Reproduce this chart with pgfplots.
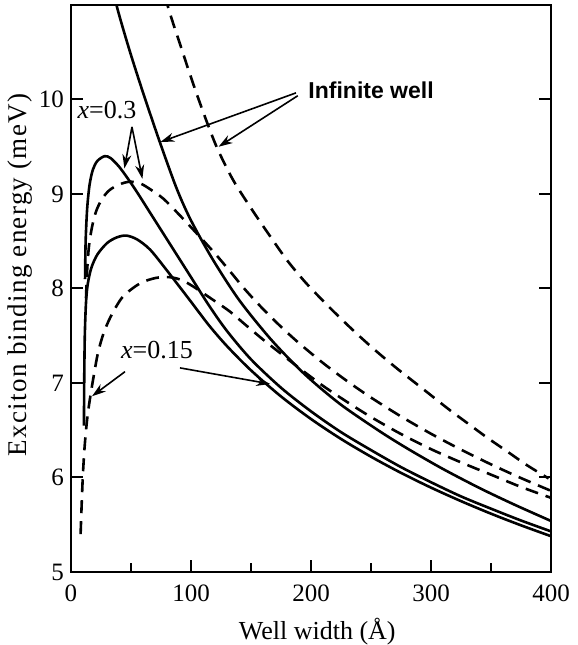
\documentclass[border=0pt]{standalone}
\usepackage{fontspec}
\setmainfont{Liberation Serif}
\newfontfamily\labelsans{Liberation Sans}
\usepackage{pgfplots}
\usepackage{pgfplotstable}
\pgfplotsset{compat=1.18}
\usetikzlibrary{arrows.meta}

% Infinite well, solid
\pgfplotstableread{
x y
36 11.09
40 10.90
45 10.68
50 10.47
56 10.23
63 9.96
74 9.55
88 9.06
100 8.72
118 8.31
140 7.88
166 7.47
190 7.15
207.5 6.95
225 6.77
243 6.61
262 6.45
282.5 6.29
310 6.09
341 5.885
370 5.71
400 5.54
}\infsolid

% Infinite well, dashed
\pgfplotstableread{
x y
78 11.10
84 10.85
91 10.58
98 10.31
105 10.05
113 9.77
122 9.48
135 9.15
150 8.85
165 8.57
180 8.30
195 8.07
210 7.87
225 7.68
240 7.50
255 7.33
272 7.15
288 6.99
302 6.85
316 6.71
332 6.56
347 6.42
363 6.28
380 6.13
398 5.99
}\infdashed

% x = 0.3, solid
\pgfplotstableread{
x y
11.7 8.10
12.2 8.50
13.5 8.85
15.5 9.10
18.3 9.26
22 9.35
28 9.40
33 9.38
40 9.29
47 9.17
55 9.02
66 8.80
80 8.52
100 8.12
115 7.82
130 7.55
150 7.25
175 6.95
200 6.70
225 6.48
250 6.29
275 6.11
300 5.95
325 5.80
350 5.67
375 5.545
400 5.43
}\solidA

% x = 0.15, solid
\pgfplotstableread{
x y
10.8 6.55
11 7.00
11.5 7.50
12.5 7.85
14 8.05
17 8.22
22 8.36
30 8.48
38 8.54
46 8.56
55 8.52
66 8.41
80 8.19
100 7.86
115 7.61
130 7.39
150 7.134
175 6.858
200 6.619
225 6.408
250 6.220
275 6.049
300 5.893
325 5.750
350 5.617
375 5.494
400 5.379
}\solidB

% x = 0.3, dashed
\pgfplotstableread{
x y
12.5 7.90
13.5 8.20
15 8.45
17.5 8.65
21 8.82
26 8.95
32 9.04
40 9.10
49 9.13
58 9.11
66 9.05
77 8.95
91 8.77
105 8.58
120 8.37
132 8.19
145 7.990
160 7.783
175 7.595
190 7.422
210 7.212
230 7.021
250 6.846
275 6.646
300 6.463
325 6.295
350 6.139
375 5.994
400 5.859
}\dashedA

% x = 0.15, dashed
\pgfplotstableread{
x y
8 5.40
9 5.75
10 6.05
11.5 6.35
13.5 6.62
16 6.85
19 7.08
22.5 7.32
27 7.52
33 7.70
43 7.91
57 8.05
70 8.11
82 8.12
92 8.09
102 8.02
116 7.90
132 7.76
145 7.62
160 7.46
175 7.31
190 7.16
210 6.97
230 6.80
250 6.64
275 6.46
300 6.30
325 6.16
350 6.03
375 5.90
400 5.785
}\dashedB

\begin{document}
\begin{tikzpicture}
\begin{axis}[
  name=main,
  scale only axis,
  width=240pt, height=283.5pt,
  xmin=0, xmax=400, ymin=5, ymax=11,
  xtick={0,100,200,300,400},
  minor xtick={50,150,250,350},
  ytick={5,6,7,8,9,10},
  tick align=inside,
  xtick pos=bottom, ytick pos=both,
  major tick length=6pt, minor tick length=4.5pt,
  every tick/.style={line width=1pt, black},
  axis line style={line width=1.1pt},
  /pgf/number format/assume math mode=true,
  tick label style={font=\fontsize{12.5}{14}\selectfont},
  xticklabel style={yshift=-3pt},
  xlabel={Well width (Å)},
  ylabel={\addfontfeature{LetterSpace=5}Exciton binding energy (meV)},
  xlabel style={font=\fontsize{13}{15}\selectfont, at={(axis description cs:0.513,-0.106)}, anchor=center},
  ylabel style={font=\fontsize{13.5}{15}\selectfont, at={(axis description cs:-0.106,0.524)}, anchor=center},
  curve/.style={black, smooth, line width=1.3pt, mark=none},
  dashcurve/.style={curve, dash pattern=on 6.5pt off 4pt},
]
\addplot[curve] table[x=x, y=y] {\infsolid};
\addplot[dashcurve] table[x=x, y=y] {\infdashed};
\addplot[curve] table[x=x, y=y] {\solidA};
\addplot[curve] table[x=x, y=y] {\solidB};
\addplot[dashcurve] table[x=x, y=y] {\dashedA};
\addplot[dashcurve] table[x=x, y=y] {\dashedB};

% annotations
\node[font=\fontsize{13}{15}\selectfont] at (axis cs:30,9.89) {\textit{x}=0.3};
\node[font=\fontsize{13}{15}\selectfont] at (axis cs:71.7,7.35) {\textit{x}=0.15};
\node[font=\labelsans\bfseries\fontsize{11.5}{13}\selectfont, anchor=west] at (axis cs:192,10.1) {Infinite well};

\begin{scope}[line width=0.8pt, -{Stealth[length=7pt, width=4.5pt]}]
\draw (axis cs:187.5,10.07) -- (axis cs:74.5,9.55);
\draw (axis cs:189,10.04) -- (axis cs:123,9.50);
\draw (axis cs:50.8,9.71) -- (axis cs:44.5,9.27);
\draw (axis cs:50.8,9.71) -- (axis cs:59.5,9.16);
\draw (axis cs:45,7.12) -- (axis cs:17.5,6.86);
\draw (axis cs:90.8,7.16) -- (axis cs:166,6.99);
\end{scope}
\end{axis}
\pgfresetboundingbox
\path[use as bounding box] ([xshift=-35.5pt,yshift=-36.5pt]main.south west) rectangle ([xshift=13pt,yshift=2.5pt]main.north east);
\end{tikzpicture}
\end{document}
